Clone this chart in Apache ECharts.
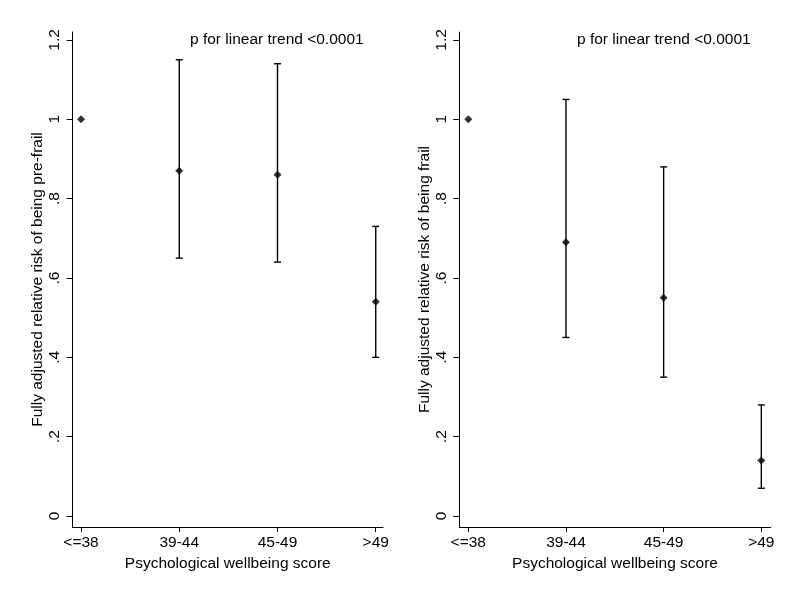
<!DOCTYPE html>
<html><head><meta charset="utf-8">
<script src="https://cdn.jsdelivr.net/npm/echarts@6/dist/echarts.min.js"></script>
<style>html,body{margin:0;padding:0;background:#fff}#c{width:800px;height:600px}</style>
</head><body><div id="c"></div>
<script>
const categories = ['<=38', '39-44', '45-49', '>49'];
const preFrailRR = [1.00, 0.87, 0.86, 0.54];
const preFrailLow = [null, 0.65, 0.64, 0.40];
const preFrailHigh = [null, 1.15, 1.14, 0.73];
const frailRR = [1.00, 0.69, 0.55, 0.14];
const frailLow = [null, 0.45, 0.35, 0.07];
const frailHigh = [null, 1.05, 0.88, 0.28];
const yTickValues = [0, 0.2, 0.4, 0.6, 0.8, 1.0, 1.2];
const yTickLabels = ['0', '.2', '.4', '.6', '.8', '1', '1.2'];
const xTickValues = [0, 1, 2, 3];
const xTitle = 'Psychological wellbeing score';
const yTitles = ['Fully adjusted relative risk of being pre-frail', 'Fully adjusted relative risk of being frail'];
const trendNote = 'p for linear trend <0.0001';

const FONT = '"Liberation Sans", Arial, sans-serif';
const FS = 15.5;
const chart = echarts.init(document.getElementById('c'), null, {renderer: 'canvas'});

function xAxisFor(idx, min, max) {
  return {
    type: 'value', gridIndex: idx, min: min, max: max,
    name: xTitle, nameLocation: 'middle', nameGap: 20,
    nameTextStyle: {color: '#000', fontSize: FS, fontFamily: FONT},
    axisLine: {show: true, onZero: false, lineStyle: {color: '#000', width: 1}},
    axisTick: {show: true, length: 5, customValues: xTickValues, lineStyle: {color: '#000'}},
    axisLabel: {show: true, margin: 8, customValues: xTickValues, color: '#000', fontSize: FS, fontFamily: FONT,
      formatter: v => categories[Math.round(v)] ?? ''},
    splitLine: {show: false}
  };
}
function yAxisFor(idx) {
  return {
    type: 'value', gridIndex: idx, min: -0.0277, max: 1.22,
    name: yTitles[idx], nameLocation: 'middle', nameGap: 26,
    nameTextStyle: {color: '#000', fontSize: FS, fontFamily: FONT},
    axisLine: {show: true, onZero: false, lineStyle: {color: '#000', width: 1}},
    axisTick: {show: true, length: 6, customValues: yTickValues, lineStyle: {color: '#000'}},
    axisLabel: {show: true, margin: 10, rotate: 90, customValues: yTickValues, color: '#000', fontSize: FS, fontFamily: FONT,
      formatter: v => { const i = yTickValues.findIndex(t => Math.abs(t - v) < 1e-6); return i >= 0 ? yTickLabels[i] : ''; }},
    splitLine: {show: false}
  };
}
function ciData(lo, hi) {
  const out = [];
  lo.forEach((l, i) => { if (l != null && hi[i] != null) out.push([i, l, hi[i]]); });
  return out;
}
function errorSeries(idx, lo, hi) {
  return {
    type: 'custom', xAxisIndex: idx, yAxisIndex: idx,
    data: ciData(lo, hi),
    encode: {x: 0, y: [1, 2]},
    renderItem: function (params, api) {
      const x = api.value(0);
      const a = api.coord([x, api.value(1)]);
      const b = api.coord([x, api.value(2)]);
      const w = 3.5;
      const st = {stroke: '#000', lineWidth: 1.4};
      return {type: 'group', children: [
        {type: 'line', shape: {x1: a[0], y1: a[1], x2: b[0], y2: b[1]}, style: st},
        {type: 'line', shape: {x1: a[0] - w, y1: a[1], x2: a[0] + w, y2: a[1]}, style: st},
        {type: 'line', shape: {x1: b[0] - w, y1: b[1], x2: b[0] + w, y2: b[1]}, style: st}
      ]};
    },
    silent: true, z: 2
  };
}
function pointSeries(idx, rr) {
  return {
    type: 'scatter', xAxisIndex: idx, yAxisIndex: idx,
    data: rr.map((v, i) => [i, v]),
    symbol: 'diamond', symbolSize: 8,
    itemStyle: {color: '#000'}, silent: true, z: 3
  };
}

chart.setOption({
  backgroundColor: '#fff',
  animation: false,
  grid: [
    {left: 72.5, top: 32, width: 310.5, height: 495},
    {left: 459.3, top: 32, width: 311.4, height: 495}
  ],
  xAxis: [xAxisFor(0, -0.087, 3.074), xAxisFor(1, -0.092, 3.096)],
  yAxis: [yAxisFor(0), yAxisFor(1)],
  graphic: [
    {type: 'text', left: 190, top: 32, style: {text: trendNote, fontSize: FS, fontFamily: FONT, fill: '#000'}},
    {type: 'text', left: 577, top: 32, style: {text: trendNote, fontSize: FS, fontFamily: FONT, fill: '#000'}}
  ],
  series: [
    errorSeries(0, preFrailLow, preFrailHigh),
    pointSeries(0, preFrailRR),
    errorSeries(1, frailLow, frailHigh),
    pointSeries(1, frailRR)
  ]
});
</script>
</body></html>
